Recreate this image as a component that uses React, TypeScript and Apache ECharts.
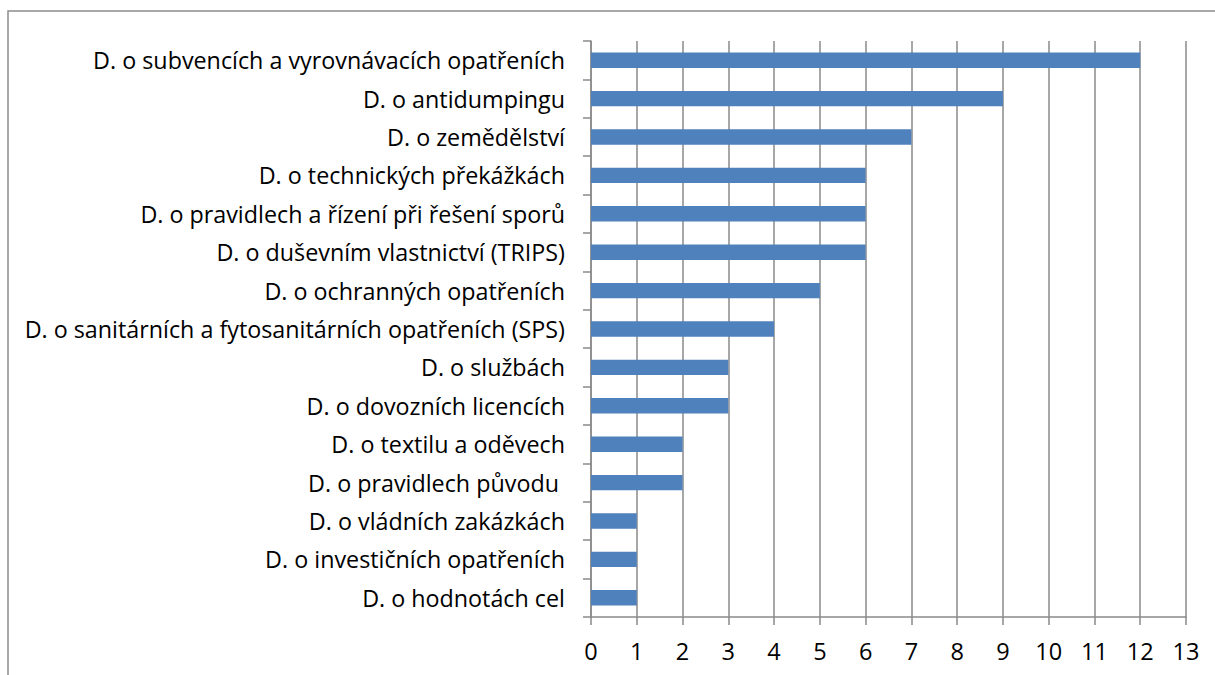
import React, { useEffect, useRef } from "react";
import * as echarts from "echarts";

const categories = [
  "D. o subvencích a vyrovnávacích opatřeních",
  "D. o antidumpingu",
  "D. o zemědělství",
  "D. o technických překážkách",
  "D. o pravidlech a řízení při řešení sporů",
  "D. o duševním vlastnictví (TRIPS)",
  "D. o ochranných opatřeních",
  "D. o sanitárních a fytosanitárních opatřeních (SPS)",
  "D. o službách",
  "D. o dovozních licencích",
  "D. o textilu a oděvech",
  "D. o pravidlech původu ",
  "D. o vládních zakázkách",
  "D. o investičních opatřeních",
  "D. o hodnotách cel",
];
const values = [12, 9, 7, 6, 6, 6, 5, 4, 3, 3, 2, 2, 1, 1, 1];
const xMin = 0;
const xMax = 13;
const xInterval = 1;

const FONT = "'Open Sans'";
const GRID_COLOR = "#8a8a8a";

export default function App() {
  const ref = useRef<HTMLDivElement>(null);
  useEffect(() => {
    if (!ref.current) return;
    const chart = echarts.init(ref.current, null, { renderer: "svg" });
    chart.setOption({
      animation: false,
      backgroundColor: "#ffffff",
      graphic: [
        {
          type: "rect",
          shape: { x: 8, y: 11, width: 1300, height: 800 },
          style: { fill: "none", stroke: "#8c8c8c", lineWidth: 1.5 },
          silent: true,
        },
      ],
      grid: { left: 591, top: 41, right: 29, bottom: 58, containLabel: false },
      xAxis: {
        type: "value",
        min: xMin,
        max: xMax,
        interval: xInterval,
        axisLine: { show: true, lineStyle: { color: GRID_COLOR, width: 1.5 } },
        axisTick: { show: true, length: 8, lineStyle: { color: GRID_COLOR, width: 1.5 } },
        axisLabel: { color: "#000", fontFamily: FONT, fontSize: 23.5, margin: 22 },
        splitLine: { show: true, lineStyle: { color: GRID_COLOR, width: 1.5 } },
      },
      yAxis: {
        type: "category",
        data: categories,
        inverse: true,
        axisLine: { show: true, lineStyle: { color: GRID_COLOR, width: 1.5 } },
        axisTick: { show: true, length: 8, lineStyle: { color: GRID_COLOR, width: 1.5 } },
        axisLabel: { color: "#000", fontFamily: FONT, fontSize: 23.3, margin: 26 },
        splitLine: { show: false },
      },
      series: [
        {
          type: "bar",
          data: values,
          barWidth: "40%",
          itemStyle: { color: "#4f81bd" },
        },
      ],
    });
    return () => chart.dispose();
  }, []);
  return (
    <div
      ref={ref}
      style={{ position: "absolute", left: 0, top: 0, width: 1215, height: 675 }}
    />
  );
}
